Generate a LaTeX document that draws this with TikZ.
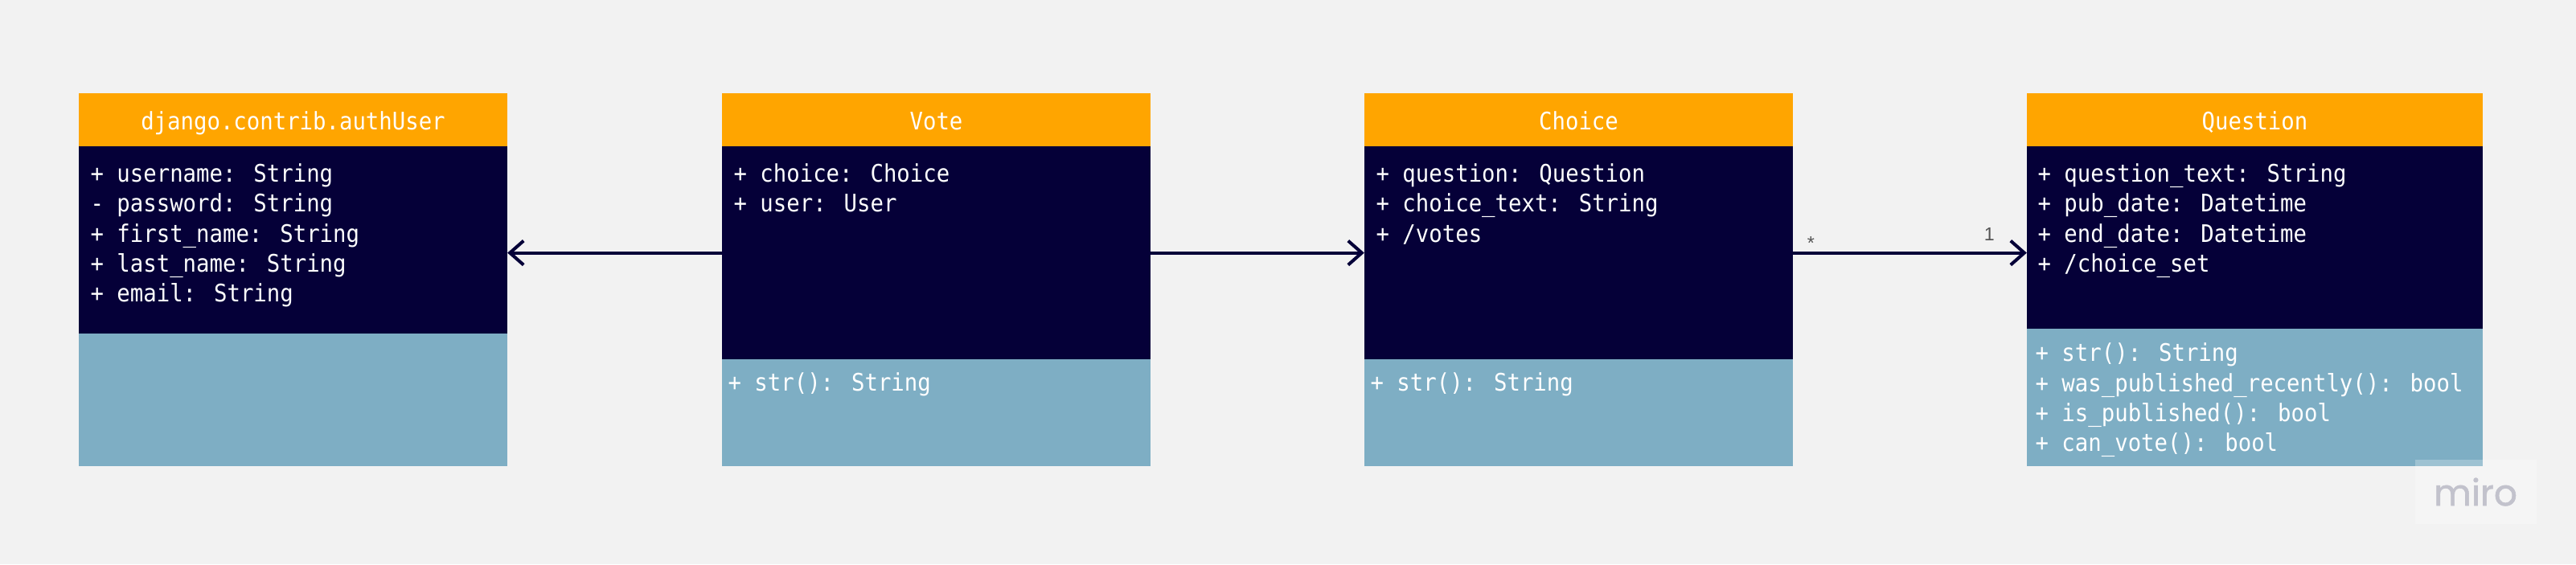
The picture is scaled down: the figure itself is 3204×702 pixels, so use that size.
\documentclass[tikz,border=0pt]{standalone}
\usepackage{fontspec}
\usetikzlibrary{arrows.meta,positioning}

\newfontfamily\umlmono[FakeStretch=0.91]{DejaVu Sans Mono}
\newfontfamily\multsans{Liberation Sans}
\newfontfamily\logosans[FakeBold=1.2]{Poppins}
\newcommand{\umlfont}{\umlmono\fontsize{8.54}{10.61}\selectfont}

\definecolor{canvasgray}{HTML}{F2F2F2}
\definecolor{hdorange}{HTML}{FFA500}
\definecolor{navy}{HTML}{050038}
\definecolor{steel}{HTML}{7EAEC4}
\definecolor{multgray}{HTML}{555555}
\definecolor{logogray}{HTML}{C2C2CC}

\begin{document}
\begin{tikzpicture}[
    x=0.01cm, y=-0.01cm,
    node distance=0pt,
    head/.style={rectangle, fill=hdorange, text=white, minimum height=0.66cm, inner sep=0pt, outer sep=0pt, font=\umlfont, text height=0.73em, text depth=0pt},
    attrbox/.style={rectangle, fill=navy, inner sep=0pt, outer sep=0pt},
    methbox/.style={rectangle, fill=steel, inner sep=0pt, outer sep=0pt},
    member/.style={anchor=north west, inner sep=0pt, align=left, text=white, font=\umlfont},
    arrow/.style={-{Straight Barb[length=0.17cm, width=0.30cm]}, line width=1.15pt, draw=navy},
    mult/.style={font=\multsans\fontsize{6.6}{7}\selectfont, text=multgray, inner sep=0pt},
]
    \fill[canvasgray] (0,0) rectangle (3204,702);
    \useasboundingbox (0,0) rectangle (3204,702);

    % django user
    \node[head, minimum width=5.33cm] (userhead) at (364.5,149) {django.contrib.authUser};
    \node[attrbox, minimum width=5.33cm, minimum height=2.33cm, below=of userhead] (userattr) {};
    \node[methbox, minimum width=5.33cm, minimum height=1.65cm, below=of userattr] (usermeth) {};
    \node[member, below right=0.21cm and 0.14cm of userattr.north west] (userattrtxt) {+ username: String\\- password: String\\+ first\_name: String\\+ last\_name: String\\+ email: String};

    % vote
    \node[head, minimum width=5.33cm] (votehead) at (1164.5,149) {Vote};
    \node[attrbox, minimum width=5.33cm, minimum height=2.65cm, below=of votehead] (voteattr) {};
    \node[methbox, minimum width=5.33cm, minimum height=1.33cm, below=of voteattr] (votemeth) {};
    \node[member, below right=0.21cm and 0.14cm of voteattr.north west] (voteattrtxt) {+ choice: Choice\\+ user: User};
    \node[member, below right=0.16cm and 0.07cm of votemeth.north west] (votemethtxt) {+ str(): String};

    % choice
    \node[head, minimum width=5.33cm] (choicehead) at (1963.5,149) {Choice};
    \node[attrbox, minimum width=5.33cm, minimum height=2.65cm, below=of choicehead] (choiceattr) {};
    \node[methbox, minimum width=5.33cm, minimum height=1.33cm, below=of choiceattr] (choicemeth) {};
    \node[member, below right=0.21cm and 0.14cm of choiceattr.north west] (choiceattrtxt) {+ question: Question\\+ choice\_text: String\\+ /votes};
    \node[member, below right=0.16cm and 0.07cm of choicemeth.north west] (choicemethtxt) {+ str(): String};

    % question
    \node[head, minimum width=5.67cm] (questhead) at (2804.5,149) {Question};
    \node[attrbox, minimum width=5.67cm, minimum height=2.27cm, below=of questhead] (questattr) {};
    \node[methbox, minimum width=5.67cm, minimum height=1.71cm, below=of questattr] (questmeth) {};
    \node[member, below right=0.21cm and 0.13cm of questattr.north west] (questattrtxt) {+ question\_text: String\\+ pub\_date: Datetime\\+ end\_date: Datetime\\+ /choice\_set};
    \node[member, below right=0.17cm and 0.10cm of questmeth.north west] (questmethtxt) {+ str(): String\\+ was\_published\_recently(): bool\\+ is\_published(): bool\\+ can\_vote(): bool};

    \draw[arrow] (voteattr.west) -- (voteattr.west -| userattr.east);
    \draw[arrow] (voteattr.east) -- (voteattr.east -| choiceattr.west);
    \draw[arrow] (choiceattr.east) -- (choiceattr.east -| questattr.west)
        node[mult, pos=0.076, yshift=0.12cm] (manyend) {*}
        node[mult, pos=0.84, yshift=0.23cm] (oneend) {1};

    \fill[white, opacity=0.25] (3004,572) rectangle (3155,652);
    \node[font=\logosans\fontsize{12.9}{14}\selectfont, text=logogray, inner sep=0pt] (logo) at (3079,612) {miro};
\end{tikzpicture}
\end{document}
